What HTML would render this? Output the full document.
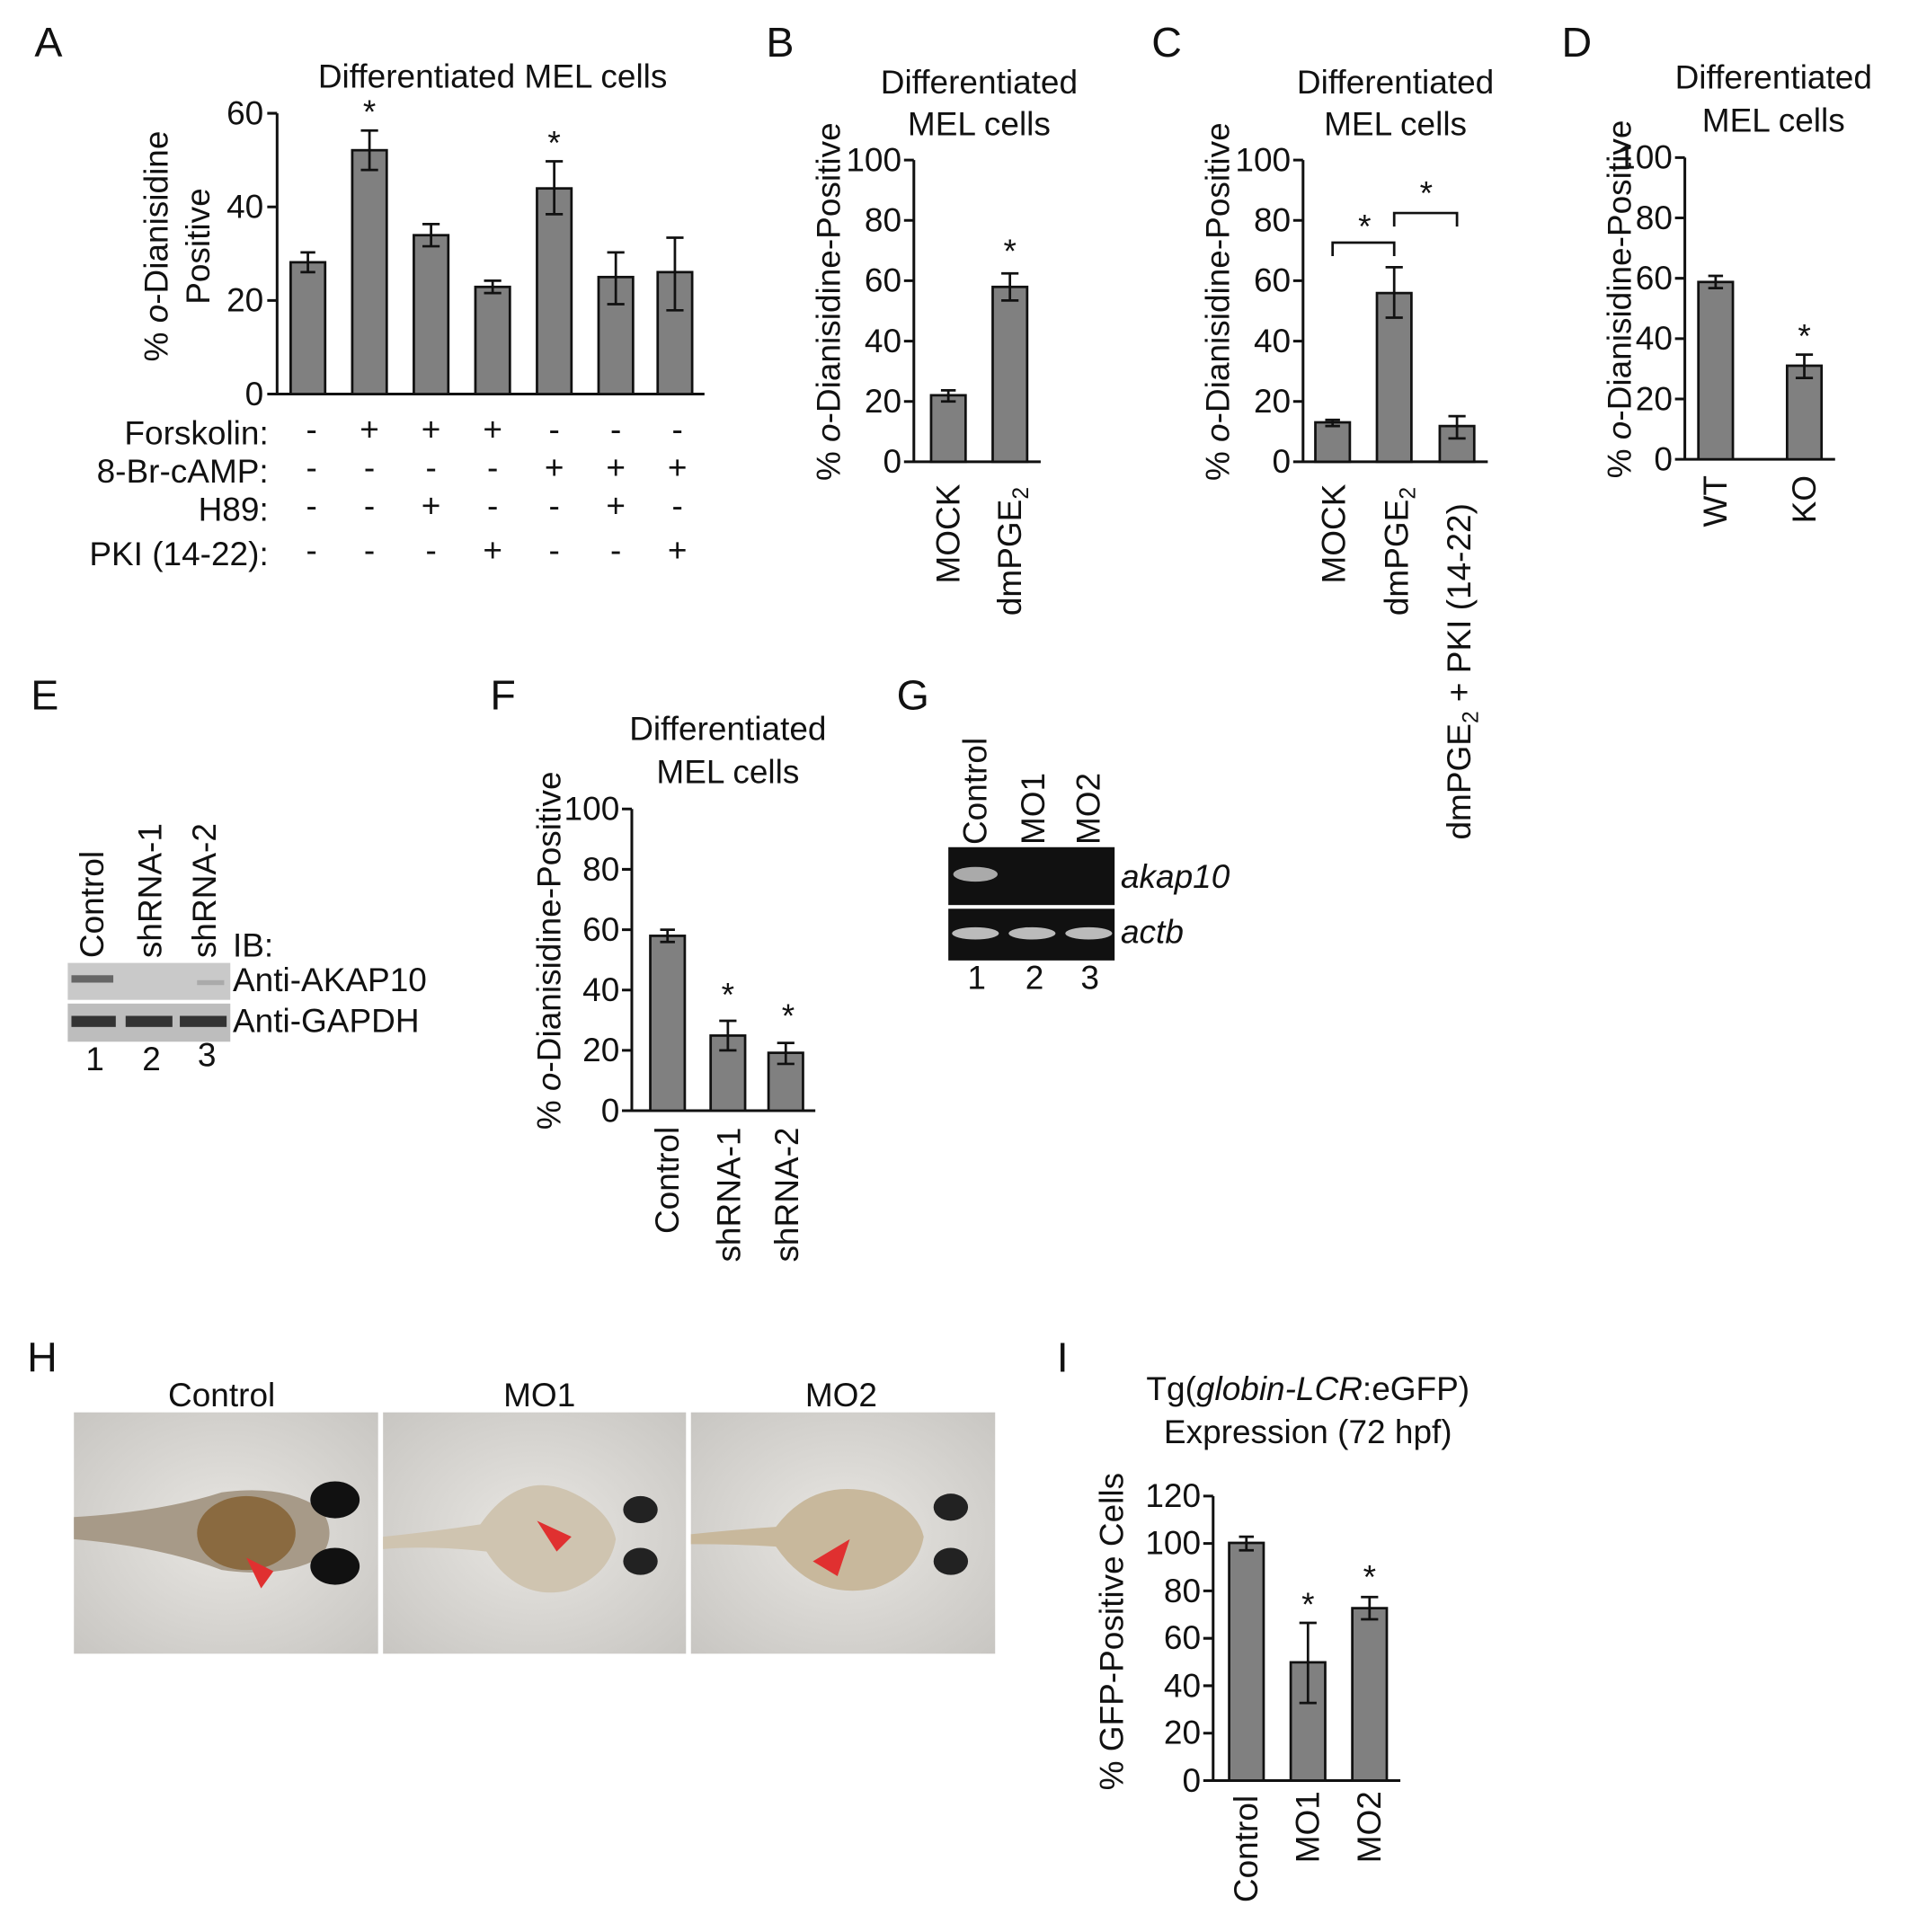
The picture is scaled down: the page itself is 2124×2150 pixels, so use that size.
<!DOCTYPE html>
<html><head><meta charset="utf-8"><style>
html,body{margin:0;padding:0;background:#fff}
svg{display:block}
text{font-family:"Liberation Sans",Arial,sans-serif;fill:#111}
.b{fill:#808080;stroke:#111;stroke-width:2}
.ax{stroke:#111;stroke-width:2.2;fill:none}
.e{stroke:#111;stroke-width:2;fill:none}
.t{font-size:27px}
.L{font-size:34px}
</style></head><body>
<svg width="2124" height="2150" viewBox="0 0 1550 1569" preserveAspectRatio="none" xmlns="http://www.w3.org/2000/svg">
<defs>
<radialGradient id="bg" cx="50%" cy="50%" r="70%"><stop offset="0" stop-color="#e8e6e2"/><stop offset="1" stop-color="#c8c6c2"/></radialGradient>
</defs>
<text class="L" x="28" y="46">A</text><text class="L" x="622" y="46">B</text><text class="L" x="935" y="46">C</text><text class="L" x="1268" y="46">D</text>
<text class="L" x="25" y="576">E</text><text class="L" x="398" y="576">F</text><text class="L" x="728" y="576">G</text>
<text class="L" x="22" y="1114">H</text><text class="L" x="858" y="1114">I</text>

<!-- Panel A -->
<text class="t" x="400" y="71" text-anchor="middle">Differentiated MEL cells</text>
<g transform="translate(136,200) rotate(-90)"><text class="t" text-anchor="middle">% <tspan font-style="italic">o</tspan>-Dianisidine</text></g>
<g transform="translate(170,200) rotate(-90)"><text class="t" text-anchor="middle">Positive</text></g>
<path class="ax" d="M225,92 V320 H572 M217,92H225 M217,168H225 M217,244H225 M217,320H225"/>
<g class="t" text-anchor="end"><text x="214" y="101">60</text><text x="214" y="177">40</text><text x="214" y="253">20</text><text x="214" y="329">0</text></g>
<g>
<rect class="b" x="236" y="213" width="28" height="107"/><path class="e" d="M250,205V221M244,205H256M244,221H256"/>
<rect class="b" x="286" y="122" width="28" height="198"/><path class="e" d="M300,106V138M293,106H307M293,138H307"/>
<rect class="b" x="336" y="191" width="28" height="129"/><path class="e" d="M350,182V200M343,182H357M343,200H357"/>
<rect class="b" x="386" y="233" width="28" height="87"/><path class="e" d="M400,228V238M393,228H407M393,238H407"/>
<rect class="b" x="436" y="153" width="28" height="167"/><path class="e" d="M450,131V174M443,131H457M443,174H457"/>
<rect class="b" x="486" y="225" width="28" height="95"/><path class="e" d="M500,205V247M493,205H507M493,247H507"/>
<rect class="b" x="534" y="221" width="28" height="99"/><path class="e" d="M548,193V252M541,193H555M541,252H555"/>
</g>
<text class="t" x="300" y="100" text-anchor="middle">*</text><text class="t" x="450" y="125" text-anchor="middle">*</text>
<g class="t" text-anchor="end"><text x="218" y="361">Forskolin:</text><text x="218" y="392">8-Br-cAMP:</text><text x="218" y="423">H89:</text><text x="218" y="459">PKI (14-22):</text></g>
<g class="t" text-anchor="middle">
<text x="253" y="358">-</text><text x="300" y="358">+</text><text x="350" y="358">+</text><text x="400" y="358">+</text><text x="450" y="358">-</text><text x="500" y="358">-</text><text x="550" y="358">-</text>
<text x="253" y="389">-</text><text x="300" y="389">-</text><text x="350" y="389">-</text><text x="400" y="389">-</text><text x="450" y="389">+</text><text x="500" y="389">+</text><text x="550" y="389">+</text>
<text x="253" y="420">-</text><text x="300" y="420">-</text><text x="350" y="420">+</text><text x="400" y="420">-</text><text x="450" y="420">-</text><text x="500" y="420">+</text><text x="550" y="420">-</text>
<text x="253" y="456">-</text><text x="300" y="456">-</text><text x="350" y="456">-</text><text x="400" y="456">+</text><text x="450" y="456">-</text><text x="500" y="456">-</text><text x="550" y="456">+</text>
</g>

<!-- Panel B -->
<text class="t" x="795" y="76" text-anchor="middle">Differentiated</text><text class="t" x="795" y="110" text-anchor="middle">MEL cells</text>
<g transform="translate(682,245) rotate(-90)"><text class="t" text-anchor="middle">% <tspan font-style="italic">o</tspan>-Dianisidine-Positive</text></g>
<path class="ax" d="M742,130V375H845 M734,130H742M734,179H742M734,228H742M734,277H742M734,326H742M734,375H742"/>
<g class="t" text-anchor="end"><text x="732" y="139">100</text><text x="732" y="188">80</text><text x="732" y="237">60</text><text x="732" y="286">40</text><text x="732" y="335">20</text><text x="732" y="384">0</text></g>
<rect class="b" x="756" y="321" width="28" height="54"/><path class="e" d="M770,317V326M764,317H776M764,326H776"/>
<rect class="b" x="806" y="233" width="28" height="142"/><path class="e" d="M820,222V244M813,222H827M813,244H827"/>
<text class="t" x="820" y="213" text-anchor="middle">*</text>
<g transform="translate(779,474) rotate(-90)"><text class="t">MOCK</text></g>
<g transform="translate(829,500) rotate(-90)"><text class="t">dmPGE<tspan font-size="18" dy="6">2</tspan></text></g>

<!-- Panel C -->
<text class="t" x="1133" y="76" text-anchor="middle">Differentiated</text><text class="t" x="1133" y="110" text-anchor="middle">MEL cells</text>
<g transform="translate(998,245) rotate(-90)"><text class="t" text-anchor="middle">% <tspan font-style="italic">o</tspan>-Dianisidine-Positive</text></g>
<path class="ax" d="M1058,130V375H1208 M1050,130H1058M1050,179H1058M1050,228H1058M1050,277H1058M1050,326H1058M1050,375H1058"/>
<g class="t" text-anchor="end"><text x="1048" y="139">100</text><text x="1048" y="188">80</text><text x="1048" y="237">60</text><text x="1048" y="286">40</text><text x="1048" y="335">20</text><text x="1048" y="384">0</text></g>
<rect class="b" x="1068" y="343" width="28" height="32"/><path class="e" d="M1082,341V346M1076,341H1088M1076,346H1088"/>
<rect class="b" x="1118" y="238" width="28" height="137"/><path class="e" d="M1132,217V258M1125,217H1139M1125,258H1139"/>
<rect class="b" x="1169" y="346" width="28" height="29"/><path class="e" d="M1183,338V356M1176,338H1190M1176,356H1190"/>
<path class="e" d="M1082,208V197H1132V208 M1132,184V173H1183V184"/>
<text class="t" x="1108" y="193" text-anchor="middle">*</text><text class="t" x="1158" y="166" text-anchor="middle">*</text>
<g transform="translate(1092,474) rotate(-90)"><text class="t">MOCK</text></g>
<g transform="translate(1143,500) rotate(-90)"><text class="t">dmPGE<tspan font-size="18" dy="6">2</tspan></text></g>
<g transform="translate(1194,682) rotate(-90)"><text class="t">dmPGE<tspan font-size="18" dy="6">2</tspan><tspan dy="-6"> + PKI (14-22)</tspan></text></g>

<!-- Panel D -->
<text class="t" x="1440" y="72" text-anchor="middle">Differentiated</text><text class="t" x="1440" y="107" text-anchor="middle">MEL cells</text>
<g transform="translate(1324,243) rotate(-90)"><text class="t" text-anchor="middle">% <tspan font-style="italic">o</tspan>-Dianisidine-Positive</text></g>
<path class="ax" d="M1368,128V373H1490 M1360,128H1368M1360,177H1368M1360,226H1368M1360,275H1368M1360,324H1368M1360,373H1368"/>
<g class="t" text-anchor="end"><text x="1358" y="137">100</text><text x="1358" y="186">80</text><text x="1358" y="235">60</text><text x="1358" y="284">40</text><text x="1358" y="333">20</text><text x="1358" y="382">0</text></g>
<rect class="b" x="1379" y="229" width="28" height="144"/><path class="e" d="M1393,224V234M1387,224H1399M1387,234H1399"/>
<rect class="b" x="1451" y="297" width="28" height="76"/><path class="e" d="M1465,288V307M1458,288H1472M1458,307H1472"/>
<text class="t" x="1465" y="282" text-anchor="middle">*</text>
<g transform="translate(1402,428) rotate(-90)"><text class="t">WT</text></g>
<g transform="translate(1474,425) rotate(-90)"><text class="t">KO</text></g>

<!-- Panel E -->
<g transform="translate(84,778) rotate(-90)"><text class="t">Control</text></g>
<g transform="translate(131,778) rotate(-90)"><text class="t">shRNA-1</text></g>
<g transform="translate(175,778) rotate(-90)"><text class="t">shRNA-2</text></g>
<text class="t" x="189" y="777">IB:</text>
<rect x="55" y="782" width="132" height="30" fill="#c9c9c9"/>
<rect x="58" y="792" width="34" height="6" fill="#666"/><rect x="160" y="796" width="22" height="4" fill="#aaa"/>
<rect x="55" y="815" width="132" height="31" fill="#bdbdbd"/>
<rect x="58" y="825" width="36" height="9" fill="#333"/><rect x="102" y="825" width="38" height="9" fill="#333"/><rect x="146" y="825" width="38" height="9" fill="#333"/>
<text class="t" x="189" y="805">Anti-AKAP10</text><text class="t" x="189" y="838">Anti-GAPDH</text>
<g class="t" text-anchor="middle"><text x="77" y="869">1</text><text x="123" y="869">2</text><text x="168" y="866">3</text></g>

<!-- Panel F -->
<text class="t" x="591" y="601" text-anchor="middle">Differentiated</text><text class="t" x="591" y="636" text-anchor="middle">MEL cells</text>
<g transform="translate(455,772) rotate(-90)"><text class="t" text-anchor="middle">% <tspan font-style="italic">o</tspan>-Dianisidine-Positive</text></g>
<path class="ax" d="M513,657V902H662 M505,657H513M505,706H513M505,755H513M505,804H513M505,853H513M505,902H513"/>
<g class="t" text-anchor="end"><text x="503" y="666">100</text><text x="503" y="715">80</text><text x="503" y="764">60</text><text x="503" y="813">40</text><text x="503" y="862">20</text><text x="503" y="911">0</text></g>
<rect class="b" x="528" y="760" width="28" height="142"/><path class="e" d="M542,755V765M536,755H548M536,765H548"/>
<rect class="b" x="577" y="841" width="28" height="61"/><path class="e" d="M591,829V853M584,829H598M584,853H598"/>
<rect class="b" x="624" y="855" width="28" height="47"/><path class="e" d="M638,847V864M631,847H645M631,864H645"/>
<text class="t" x="591" y="817" text-anchor="middle">*</text><text class="t" x="640" y="834" text-anchor="middle">*</text>
<g transform="translate(551,1002) rotate(-90)"><text class="t">Control</text></g>
<g transform="translate(601,1025) rotate(-90)"><text class="t">shRNA-1</text></g>
<g transform="translate(648,1025) rotate(-90)"><text class="t">shRNA-2</text></g>

<!-- Panel G -->
<g transform="translate(801,686) rotate(-90)"><text class="t">Control</text></g>
<g transform="translate(848,686) rotate(-90)"><text class="t">MO1</text></g>
<g transform="translate(893,686) rotate(-90)"><text class="t">MO2</text></g>
<rect x="770" y="688" width="135" height="47" fill="#111"/>
<ellipse cx="792" cy="710" rx="18" ry="6" fill="#aaa"/>
<rect x="770" y="738" width="135" height="42" fill="#111"/>
<ellipse cx="792" cy="758" rx="19" ry="5" fill="#bbb"/><ellipse cx="838" cy="758" rx="19" ry="5" fill="#bbb"/><ellipse cx="884" cy="758" rx="19" ry="5" fill="#bbb"/>
<text class="t" x="910" y="721" font-style="italic">akap10</text><text class="t" x="910" y="766" font-style="italic">actb</text>
<g class="t" text-anchor="middle"><text x="793" y="803">1</text><text x="840" y="803">2</text><text x="885" y="803">3</text></g>

<!-- Panel H -->
<g class="t" text-anchor="middle"><text x="180" y="1142">Control</text><text x="438" y="1142">MO1</text><text x="683" y="1142">MO2</text></g>
<g>
<rect x="60" y="1147" width="247" height="196" fill="url(#bg)"/>
<rect x="311" y="1147" width="246" height="196" fill="url(#bg)"/>
<rect x="561" y="1147" width="247" height="196" fill="url(#bg)"/>
<path d="M60,1232 Q130,1228 180,1212 Q230,1205 260,1225 Q275,1245 260,1265 Q230,1282 180,1275 Q130,1256 60,1250Z" fill="#a79a88"/>
<ellipse cx="200" cy="1245" rx="40" ry="30" fill="#8a6a40"/>
<ellipse cx="272" cy="1218" rx="20" ry="15" fill="#111"/><ellipse cx="272" cy="1272" rx="20" ry="15" fill="#111"/>
<path d="M200,1265 L212,1290 L222,1276Z" fill="#e03030"/>
<path d="M311,1248 Q350,1244 390,1238 Q420,1195 460,1210 Q495,1225 500,1250 Q495,1280 460,1292 Q420,1300 395,1260 Q350,1255 311,1258Z" fill="#cfc4b0"/>
<ellipse cx="520" cy="1226" rx="14" ry="11" fill="#222"/><ellipse cx="520" cy="1268" rx="14" ry="11" fill="#222"/>
<path d="M436,1235 L464,1248 L452,1260Z" fill="#e03030"/>
<path d="M561,1246 Q600,1242 630,1240 Q660,1200 710,1212 Q745,1225 750,1248 Q745,1278 710,1290 Q660,1300 630,1256 Q600,1254 561,1254Z" fill="#c8b89c"/>
<ellipse cx="772" cy="1224" rx="14" ry="11" fill="#222"/><ellipse cx="772" cy="1268" rx="14" ry="11" fill="#222"/>
<path d="M660,1268 L690,1250 L680,1280Z" fill="#e03030"/>
</g>

<!-- Panel I -->
<text class="t" x="1062" y="1137" text-anchor="middle">Tg(<tspan font-style="italic">globin-LCR</tspan>:eGFP)</text>
<text class="t" x="1062" y="1172" text-anchor="middle">Expression (72 hpf)</text>
<g transform="translate(912,1325) rotate(-90)"><text class="t" text-anchor="middle">% GFP-Positive Cells</text></g>
<path class="ax" d="M985,1215V1446H1137 M977,1215H985M977,1253.5H985M977,1292H985M977,1330.5H985M977,1369H985M977,1407.5H985M977,1446H985"/>
<g class="t" text-anchor="end"><text x="975" y="1224">120</text><text x="975" y="1262">100</text><text x="975" y="1301">80</text><text x="975" y="1339">60</text><text x="975" y="1378">40</text><text x="975" y="1416">20</text><text x="975" y="1455">0</text></g>
<rect class="b" x="998" y="1253" width="28" height="193"/><path class="e" d="M1012,1248V1259M1006,1248H1018M1006,1259H1018"/>
<rect class="b" x="1048" y="1350" width="28" height="96"/><path class="e" d="M1062,1318V1383M1055,1318H1069M1055,1383H1069"/>
<rect class="b" x="1098" y="1306" width="28" height="140"/><path class="e" d="M1112,1297V1315M1105,1297H1119M1105,1315H1119"/>
<text class="t" x="1062" y="1312" text-anchor="middle">*</text><text class="t" x="1112" y="1290" text-anchor="middle">*</text>
<g transform="translate(1021,1545) rotate(-90)"><text class="t">Control</text></g>
<g transform="translate(1071,1513) rotate(-90)"><text class="t">MO1</text></g>
<g transform="translate(1121,1513) rotate(-90)"><text class="t">MO2</text></g>
</svg>
</body></html>
